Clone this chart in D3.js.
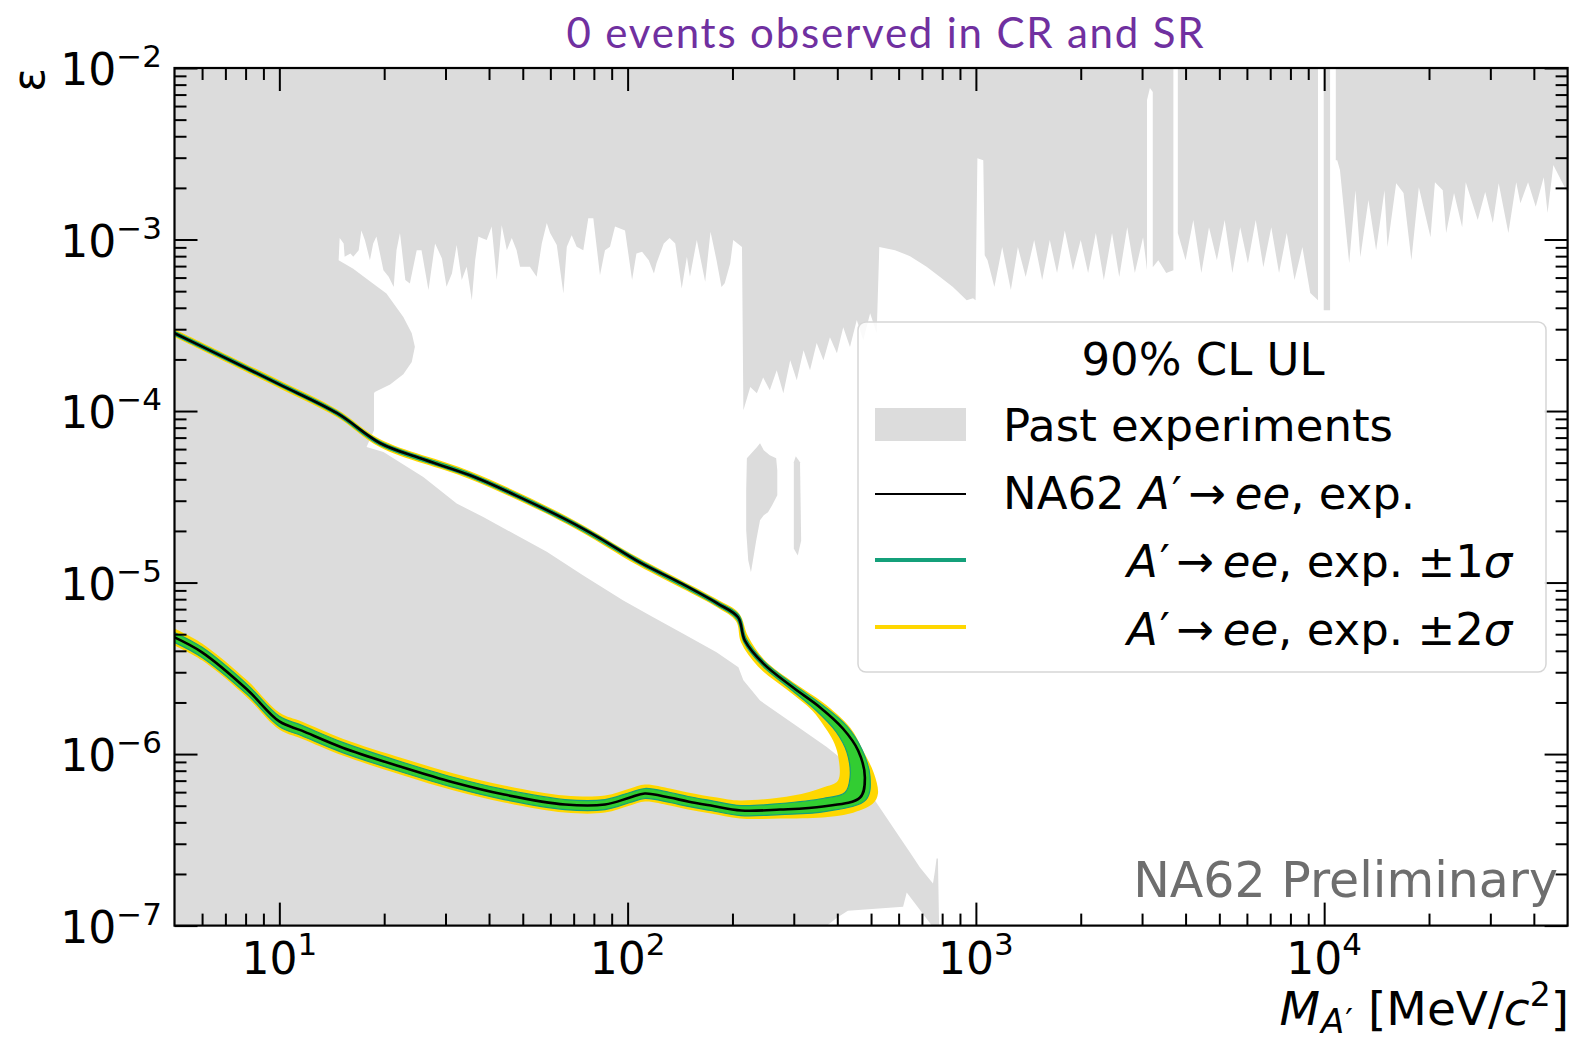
<!DOCTYPE html>
<html>
<head>
<meta charset="utf-8">
<script src="https://cdn.jsdelivr.net/npm/d3@7/dist/d3.min.js"></script>
<style>
html,body{margin:0;padding:0;background:#fff;}
svg text{font-family:"DejaVu Sans",sans-serif;}
</style>
</head>
<body>
<svg id="fig" width="1581" height="1043"></svg>
<script>
// ---- axis ranges and tick labels ----
const massRange = [5, 5e4];          // M_A' [MeV/c^2]
const epsRange = [1e-7, 1e-2];       // epsilon
const massTicks = [10, 100, 1000, 10000];
const massTickExponents = ["1", "2", "3", "4"];
const epsTicks = [1e-7, 1e-6, 1e-5, 1e-4, 1e-3, 1e-2];
const epsTickExponents = ["\u22127", "\u22126", "\u22125", "\u22124", "\u22123", "\u22122"];

// ---- excluded region from past experiments: outline [mass, eps] ----
const pastExperiments = [
  [5,1e-2],[5e4,1e-2],[5e4,1.87e-3],
  [4.55e4,2.72e-3],[4.38e4,1.43e-3],[4.27e4,2.31e-3],[4.05e4,1.55e-3],[3.85e4,2.16e-3],[3.66e4,1.63e-3],
  [3.56e4,2.16e-3],[3.38e4,1.09e-3],[3.17e4,2.13e-3],[3.05e4,1.25e-3],[2.90e4,1.89e-3],[2.76e4,1.30e-3],
  [2.55e4,2.16e-3],[2.49e4,1.18e-3],[2.36e4,1.87e-3],[2.24e4,1.09e-3],[2.19e4,1.94e-3],[2.08e4,2.16e-3],
  [2.02e4,1.03e-3],[1.87e4,2.02e-3],[1.78e4,7.58e-4],[1.69e4,1.87e-3],[1.61e4,2.13e-3],[1.52e4,9.03e-4],
  [1.49e4,1.94e-3],[1.41e4,8.67e-4],[1.34e4,1.70e-3],[1.27e4,7.89e-4],[1.23e4,1.94e-3],[1.18e4,7.28e-4],
  [1.11e4,2.54e-3],[1.09e4,2.90e-3],
  [1.08e4,2.90e-3],[1.08e4,1e-2],[1.04e4,1e-2],[1.04e4,3.87e-4],[9.97e3,3.87e-4],[9.97e3,1e-2],[9.60e3,1e-2],[9.60e3,4.43e-4],
  [9.12e3,4.87e-4],[8.66e3,9.03e-4],[8.22e3,5.80e-4],[7.81e3,1.09e-3],[7.42e3,6.37e-4],[7.05e3,1.18e-3],
  [6.69e3,6.90e-4],[6.36e3,1.30e-3],[6.04e3,7.28e-4],[5.74e3,1.18e-3],[5.45e3,6.37e-4],[5.18e3,1.30e-3],
  [4.92e3,7.58e-4],[4.67e3,1.18e-3],[4.44e3,6.37e-4],[4.21e3,1.30e-3],[4.00e3,7.58e-4],[3.80e3,1.09e-3],
  [3.80e3,1e-2],[3.69e3,1e-2],[3.69e3,6.63e-4],
  [3.52e3,6.37e-4],[3.34e3,7.58e-4],[3.22e3,6.90e-4],
  [3.22e3,7.24e-3],[3.16e3,7.64e-3],[3.10e3,6.51e-3],[3.10e3,6.63e-4],
  [3.02e3,1.03e-3],[2.86e3,6.37e-4],[2.72e3,1.18e-3],[2.58e3,6.04e-4],[2.46e3,1.09e-3],[2.33e3,5.80e-4],
  [2.21e3,1.09e-3],[2.10e3,6.37e-4],[2.00e3,9.92e-4],[1.90e3,6.63e-4],[1.80e3,1.13e-3],[1.71e3,6.37e-4],
  [1.63e3,9.92e-4],[1.55e3,5.80e-4],[1.47e3,9.92e-4],[1.39e3,6.04e-4],[1.32e3,9.03e-4],[1.26e3,5.07e-4],
  [1.19e3,9.03e-4],[1.13e3,5.28e-4],[1.08e3,7.58e-4],[1.06e3,8.11e-4],
  [1.05e3,2.90e-3],[1.01e3,2.98e-3],[998,4.43e-4],[981,4.55e-4],[941,4.43e-4],[859,5.28e-4],[789,6.04e-4],
  [722,6.93e-4],[647,8.00e-4],[586,8.67e-4],[528,9.03e-4],
  [519,2.84e-4],[497,3.72e-4],[475,2.59e-4],[455,3.39e-4],[435,2.36e-4],[416,3.08e-4],[399,2.17e-4],
  [381,2.69e-4],[365,1.98e-4],[349,2.49e-4],[334,1.73e-4],[320,2.26e-4],[306,1.51e-4],[293,1.98e-4],
  [280,1.27e-4],[268,1.73e-4],[256,1.32e-4],[245,1.57e-4],[235,1.27e-4],[225,1.38e-4],[215,1.01e-4],[213,9.03e-4],
  [201,9.92e-4],[197,7.25e-4],[190,5.56e-4],[186,5.28e-4],[180,7.58e-4],[173,1.11e-3],[167,5.67e-4],
  [158,9.92e-4],[151,6.06e-4],[148,7.93e-4],[143,5.18e-4],[137,9.49e-4],[132,1.02e-3],[127,9.49e-4],
  [121,7.25e-4],[119,6.34e-4],[115,7.58e-4],[110,8.48e-4],[106,8.30e-4],[103,5.80e-4],[98.3,1.13e-3],
  [92.0,1.19e-3],[89.0,9.07e-4],[86.1,8.67e-4],[83.3,6.20e-4],[79.7,1.33e-3],[77.1,1.33e-3],[74.6,8.67e-4],
  [71.4,9.07e-4],[69.1,1.06e-3],[66.9,9.07e-4],[65.4,4.85e-4],[62.6,9.28e-4],[59.9,1.09e-3],[58.6,1.25e-3],
  [56.7,9.49e-4],[54.8,6.06e-4],[52.4,6.93e-4],[49.1,6.93e-4],[48.0,8.67e-4],[46.5,1.02e-3],[45.0,8.67e-4],
  [43.5,1.21e-3],[42.1,5.80e-4],[40.7,1.19e-3],[39.4,9.92e-4],[38.1,1.02e-3],[37.3,1.04e-3],[36.5,7.58e-4],
  [35.7,4.43e-4],[34.5,6.93e-4],[33.4,5.80e-4],[32.3,9.28e-4],[31.3,6.34e-4],[30.2,5.30e-4],[29.3,7.76e-4],
  [28.0,9.49e-4],[26.8,5.07e-4],[25.6,8.67e-4],[24.8,8.67e-4],[23.7,5.54e-4],[23.0,5.80e-4],[22.2,1.09e-3],
  [21.7,8.67e-4],[21.3,5.28e-4],[20.6,6.06e-4],[19.9,6.63e-4],[19.0,1.04e-3],[18.6,9.49e-4],[18.2,7.58e-4],
  [17.6,9.92e-4],[17.2,1.13e-3],[16.9,8.67e-4],[16.3,7.93e-4],[16.0,8.30e-4],[15.4,7.93e-4],[15.3,9.49e-4],
  [14.9,1.02e-3],[14.8,7.58e-4],
  [16.3,6.76e-4],[18.2,5.72e-4],[20.3,4.85e-4],[22.7,3.54e-4],[24.0,2.84e-4],[24.5,2.37e-4],[24.0,1.93e-4],
  [22.7,1.64e-4],[20.8,1.43e-4],[18.8,1.29e-4],[18.7,1.27e-4],[18.7,7.73e-5],[17.8,6.18e-5],
  [19.9,5.77e-5],[25.9,4.13e-5],[32.3,2.89e-5],[38.5,2.41e-5],[47.0,1.93e-5],[58.6,1.51e-5],[74.6,1.10e-5],
  [97.2,7.87e-6],[116,6.43e-6],[144,5.05e-6],[180,3.93e-6],[208,3.21e-6],[215,2.69e-6],[240,2.05e-6],
  [298.5,1.51e-6],[373,1.10e-6],[407,9.55e-7],[471,7.01e-7],[520,5.15e-7],[605,3.26e-7],[647,2.67e-7],
  [691,2.18e-7],[753,1.76e-7],[763,2.09e-7],[771,2.46e-7],[778,2.46e-7],[784,1e-7],
  [747,1e-7],[633,1.56e-7],[618,1.29e-7],[429,1.22e-7],[399,1.11e-7],[374,1e-7],
  [5,1e-7]
];
const pastIslandA = [
  [220,5.30e-5],[228,5.75e-5],[235,6.15e-5],[240,6.49e-5],[246,5.91e-5],[256,5.52e-5],[267,5.30e-5],
  [269,4.51e-5],[269,3.23e-5],[260,2.82e-5],[253,2.57e-5],[246,2.47e-5],[240,2.31e-5],[234,1.76e-5],
  [229,1.35e-5],[226,1.15e-5],[222,1.35e-5],[219,2.02e-5],[219,3.45e-5]
];
const pastIslandB = [
  [300,5.03e-5],[304,5.45e-5],[312.6,5.03e-5],[315,1.76e-5],[308,1.44e-5],[300,1.58e-5]
];

// ---- NA62 A' -> ee expected 90% CL upper limit contour [mass, eps] ----
const na62Expected = [
  [5.0,2.84e-4],[6.58,2.17e-4],[10,1.43e-4],[14.65,9.71e-5],[19.5,6.49e-5],[25.4,5.30e-5],[35.3,4.22e-5],
  [49.1,3.14e-5],[67.0,2.31e-5],[83.3,1.81e-5],[108.5,1.31e-5],[141,1.00e-5],[181,7.56e-6],[207.5,6.27e-6],
  [217,4.60e-6],[245,3.38e-6],[298,2.45e-6],[357,1.87e-6],[415,1.41e-6],[459,1.05e-6],[480,7.30e-7],
  [465,5.58e-7],[364,4.95e-7],[274,4.75e-7],[212,4.69e-7],[173.5,5.01e-7],[149,5.29e-7],[132,5.58e-7],
  [112,5.89e-7],[101.6,5.58e-7],[86.1,5.08e-7],[66.1,5.08e-7],[44.2,5.81e-7],[31.7,6.83e-7],[22.7,8.35e-7],
  [15.2,1.09e-6],[11.6,1.37e-6],[10,1.55e-6],[8.08,2.38e-6],[6.0,3.92e-6],[5.0,4.79e-6]
];
// +-2 sigma contours
const na62Sigma2Outer = [
  [5,3.00e-4],[10,1.51e-4],[14.65,1.02e-4],[19.46,6.85e-5],[35.3,4.46e-5],[67,2.43e-5],[108.5,1.38e-5],
  [180.6,7.98e-6],[208.9,6.61e-6],[221.7,4.86e-6],[246.4,3.56e-6],[302.4,2.58e-6],[363.9,2.00e-6],
  [435.2,1.43e-6],[474.2,1.05e-6],[509.8,7.70e-7],[523.4,5.89e-7],[506.4,5.15e-7],[435.2,4.50e-7],
  [363.9,4.27e-7],[273.9,4.21e-7],[210.2,4.21e-7],[173.5,4.50e-7],[149.1,4.75e-7],[132.3,5.01e-7],
  [112.2,5.29e-7],[101.6,5.01e-7],[86.1,4.56e-7],[66.1,4.56e-7],[44.2,5.22e-7],[31.7,6.13e-7],[22.7,7.50e-7],
  [15.2,9.81e-7],[11.6,1.23e-6],[10,1.39e-6],[8.08,2.14e-6],[6.0,3.52e-6],[5,4.30e-6]
];
const na62Sigma2Inner = [
  [5,2.70e-4],[10,1.36e-4],[14.65,9.20e-5],[19.46,6.15e-5],[35.3,4.00e-5],[67,2.19e-5],[108.5,1.24e-5],
  [180.6,7.17e-6],[204.8,5.94e-6],[211.6,4.48e-6],[236.8,3.24e-6],[288.8,2.35e-6],[338.3,1.80e-6],
  [368.8,1.43e-6],[388.9,1.20e-6],[402,9.81e-7],[402,7.02e-7],[363.9,6.39e-7],[298.5,5.73e-7],
  [210.2,5.36e-7],[180.6,5.58e-7],[149.1,5.97e-7],[132.3,6.30e-7],[112.2,6.65e-7],[101.6,6.30e-7],
  [86.1,5.73e-7],[66.1,5.73e-7],[44.2,6.56e-7],[31.7,7.70e-7],[22.7,9.43e-7],[15.2,1.23e-6],[11.6,1.55e-6],
  [10,1.75e-6],[8.08,2.69e-6],[6.0,4.42e-6],[5,5.40e-6]
];
// +-1 sigma contours
const na62Sigma1Outer = [
  [5,2.92e-4],[10,1.47e-4],[14.65,9.97e-5],[19.46,6.66e-5],[35.3,4.34e-5],[67,2.37e-5],[108.5,1.35e-5],
  [180.6,7.77e-6],[208.9,6.44e-6],[218.8,4.73e-6],[246.4,3.47e-6],[302.4,2.51e-6],[363.9,1.92e-6],
  [426.6,1.45e-6],[471.1,1.06e-6],[496.6,7.40e-7],[483.7,5.43e-7],[371.3,4.63e-7],[273.9,4.44e-7],
  [211.6,4.38e-7],[173.5,4.69e-7],[149.1,4.95e-7],[132.3,5.22e-7],[112.2,5.51e-7],[101.6,5.22e-7],
  [86.1,4.75e-7],[66.1,4.75e-7],[44.2,5.43e-7],[31.7,6.39e-7],[22.7,7.81e-7],[15.2,1.02e-6],[11.6,1.28e-6],
  [10,1.45e-6],[8.08,2.23e-6],[6.0,3.66e-6],[5,4.48e-6]
];
const na62Sigma1Inner = [
  [5,2.77e-4],[10,1.40e-4],[14.65,9.45e-5],[19.46,6.32e-5],[35.3,4.11e-5],[67,2.24e-5],[108.5,1.28e-5],
  [180.6,7.36e-6],[206.1,6.10e-6],[215.9,4.48e-6],[243.2,3.29e-6],[294.6,2.38e-6],[347.4,1.80e-6],
  [396.7,1.35e-6],[426.6,1.02e-6],[435.2,7.30e-7],[421,5.97e-7],[363.9,5.51e-7],[273.9,5.15e-7],
  [211.6,5.01e-7],[173.5,5.36e-7],[149.1,5.66e-7],[132.3,5.97e-7],[112.2,6.30e-7],[101.6,5.97e-7],
  [86.1,5.43e-7],[66.1,5.43e-7],[44.2,6.22e-7],[31.7,7.30e-7],[22.7,8.93e-7],[15.2,1.17e-6],[11.6,1.47e-6],
  [10,1.66e-6],[8.08,2.55e-6],[6.0,4.19e-6],[5,5.12e-6]
];

// ---- colours ----
const GRAY = "#dcdcdc", GOLD = "#ffd700", LIME = "#32cd32", TEAL = "#14a07a";

// ---- layout ----
const svg = d3.select("#fig");
const P = {l: 174.5, r: 1567.6, t: 68, b: 925.6};
const x = d3.scaleLog().domain(massRange).range([P.l, P.r]);
const y = d3.scaleLog().domain(epsRange).range([P.b, P.t]);

svg.append("defs").append("clipPath").attr("id", "plotClip")
  .append("rect").attr("x", P.l).attr("y", P.t).attr("width", P.r - P.l).attr("height", P.b - P.t);

const line = d3.line().x(d => x(d[0])).y(d => y(d[1]));
const smooth = d3.line().x(d => x(d[0])).y(d => y(d[1])).curve(d3.curveCatmullRom.alpha(0.5));
// closed band between two smooth contours
const band = (a, b) => smooth(a) + "L" + smooth(b.slice().reverse()).slice(1) + "Z";

const plot = svg.append("g").attr("clip-path", "url(#plotClip)");

// past experiments
plot.append("path").attr("d", line(pastExperiments) + "Z").attr("fill", GRAY);
plot.append("path").attr("d", line(pastIslandA) + "Z").attr("fill", GRAY);
plot.append("path").attr("d", line(pastIslandB) + "Z").attr("fill", GRAY);

// NA62 bands and expected limit
plot.append("path").attr("d", band(na62Sigma2Outer, na62Sigma2Inner)).attr("fill", GOLD);
plot.append("path").attr("d", band(na62Sigma1Outer, na62Sigma1Inner)).attr("fill", LIME);
[na62Sigma1Outer, na62Sigma1Inner].forEach(c =>
  plot.append("path").attr("d", smooth(c)).attr("fill", "none").attr("stroke", TEAL).attr("stroke-width", 1.2));
plot.append("path").attr("d", smooth(na62Expected)).attr("fill", "none")
  .attr("stroke", "#000").attr("stroke-width", 2.6).attr("stroke-linejoin", "round");

// ---- ticks (inward, all four sides) ----
function minorTicks(dom) {
  const out = [];
  const k0 = Math.floor(Math.log10(dom[0])), k1 = Math.ceil(Math.log10(dom[1]));
  for (let k = k0; k < k1; k++) for (let j = 2; j <= 9; j++) {
    const v = j * Math.pow(10, k);
    if (v > dom[0] * 1.0001 && v < dom[1] * 0.9999) out.push(v);
  }
  return out;
}
const MAJ = 23, MIN = 12;
function drawAxis(gen, tr) {
  const g = svg.append("g").attr("transform", tr).call(gen);
  g.select(".domain").remove();
  g.selectAll(".tick text").remove();
  g.selectAll(".tick line").attr("stroke", "#000").attr("stroke-width", 2);
}
const mMinor = minorTicks(massRange), eMinor = minorTicks(epsRange);
drawAxis(d3.axisBottom(x).tickValues(massTicks).tickSize(-MAJ), `translate(0,${P.b})`);
drawAxis(d3.axisBottom(x).tickValues(mMinor).tickSize(-MIN), `translate(0,${P.b})`);
drawAxis(d3.axisTop(x).tickValues(massTicks).tickSize(-MAJ), `translate(0,${P.t})`);
drawAxis(d3.axisTop(x).tickValues(mMinor).tickSize(-MIN), `translate(0,${P.t})`);
drawAxis(d3.axisLeft(y).tickValues(epsTicks).tickSize(-MAJ), `translate(${P.l},0)`);
drawAxis(d3.axisLeft(y).tickValues(eMinor).tickSize(-MIN), `translate(${P.l},0)`);
drawAxis(d3.axisRight(y).tickValues(epsTicks).tickSize(-MAJ), `translate(${P.r},0)`);
drawAxis(d3.axisRight(y).tickValues(eMinor).tickSize(-MIN), `translate(${P.r},0)`);

svg.append("rect").attr("x", P.l).attr("y", P.t).attr("width", P.r - P.l).attr("height", P.b - P.t)
  .attr("fill", "none").attr("stroke", "#000").attr("stroke-width", 2.2);

// tick labels
svg.append("g").selectAll("text").data(massTicks).join("text")
  .attr("x", d => x(d)).attr("y", P.b + 48).attr("text-anchor", "middle").attr("font-size", 44)
  .each(function(d, i) {
    const t = d3.select(this);
    t.append("tspan").text("10");
    t.append("tspan").attr("font-size", 31).attr("dy", -19).text(massTickExponents[i]);
  });
svg.append("g").selectAll("text").data(epsTicks).join("text")
  .attr("x", 162).attr("y", d => y(d) + 17).attr("text-anchor", "end").attr("font-size", 44)
  .each(function(d, i) {
    const t = d3.select(this);
    t.append("tspan").text("10");
    t.append("tspan").attr("font-size", 31).attr("dy", -18).text(epsTickExponents[i]);
  });

// axis titles
svg.append("text").attr("transform", `translate(44,${P.t}) rotate(-90)`)
  .attr("text-anchor", "end").attr("font-size", 44).text("\u03b5");

const xl = svg.append("text").attr("x", 1569).attr("y", 1025).attr("text-anchor", "end").attr("font-size", 47);
xl.append("tspan").attr("font-style", "italic").text("M");
xl.append("tspan").attr("font-style", "italic").attr("font-size", 34).attr("dy", 8).attr("dx", 1).text("A");
xl.append("tspan").attr("font-size", 34).attr("dx", 1).text("\u2032");
xl.append("tspan").attr("dy", -8).text(" [MeV/");
xl.append("tspan").attr("font-style", "italic").text("c");
xl.append("tspan").attr("font-size", 33).attr("dy", -19).text("2");
xl.append("tspan").attr("dy", 19).text("]");

// title
svg.append("text").attr("x", 886).attr("y", 48).attr("text-anchor", "middle")
  .style("font-family", "Lato, 'Open Sans', sans-serif").style("letter-spacing", "1.8px")
  .attr("font-size", 42).attr("fill", "#7030a0")
  .text("0 events observed in CR and SR");

// preliminary tag
svg.append("text").attr("x", 1558).attr("y", 897).attr("text-anchor", "end").attr("font-size", 49)
  .attr("fill", "#6e6e6e").text("NA62 Preliminary");

// ---- legend ----
const L = svg.append("g");
L.append("rect").attr("x", 858).attr("y", 322).attr("width", 688).attr("height", 350)
  .attr("rx", 8).attr("fill", "#fff").attr("fill-opacity", 0.85).attr("stroke", "#d6d6d6").attr("stroke-width", 1.5);
L.append("text").attr("x", 1203).attr("y", 375).attr("text-anchor", "middle").attr("font-size", 45).text("90% CL UL");
L.append("rect").attr("x", 875).attr("y", 408).attr("width", 91).attr("height", 33).attr("fill", GRAY);
L.append("text").attr("x", 1003).attr("y", 441).attr("font-size", 45).text("Past experiments");
L.append("line").attr("x1", 875).attr("x2", 966).attr("y1", 494).attr("y2", 494).attr("stroke", "#000").attr("stroke-width", 2.2);
L.append("line").attr("x1", 875).attr("x2", 966).attr("y1", 560).attr("y2", 560).attr("stroke", TEAL).attr("stroke-width", 4);
L.append("line").attr("x1", 875).attr("x2", 966).attr("y1", 627).attr("y2", 627).attr("stroke", GOLD).attr("stroke-width", 4);

function decayLabel(t) {
  t.append("tspan").attr("font-style", "italic").text("A");
  t.append("tspan").attr("dx", 2).text("\u2032");
  t.append("tspan").attr("dx", 6).text("\u2192");
  t.append("tspan").attr("dx", 9).attr("font-style", "italic").text("ee");
  t.append("tspan").text(", exp.");
}
const t1 = L.append("text").attr("x", 1003).attr("y", 509).attr("font-size", 45);
t1.append("tspan").text("NA62 ");
decayLabel(t1);
const t2 = L.append("text").attr("x", 1127).attr("y", 577).attr("font-size", 45);
decayLabel(t2);
t2.append("tspan").text(" \u00b11");
t2.append("tspan").attr("font-style", "italic").text("\u03c3");
const t3 = L.append("text").attr("x", 1127).attr("y", 645).attr("font-size", 45);
decayLabel(t3);
t3.append("tspan").text(" \u00b12");
t3.append("tspan").attr("font-style", "italic").text("\u03c3");
</script>
</body>
</html>
